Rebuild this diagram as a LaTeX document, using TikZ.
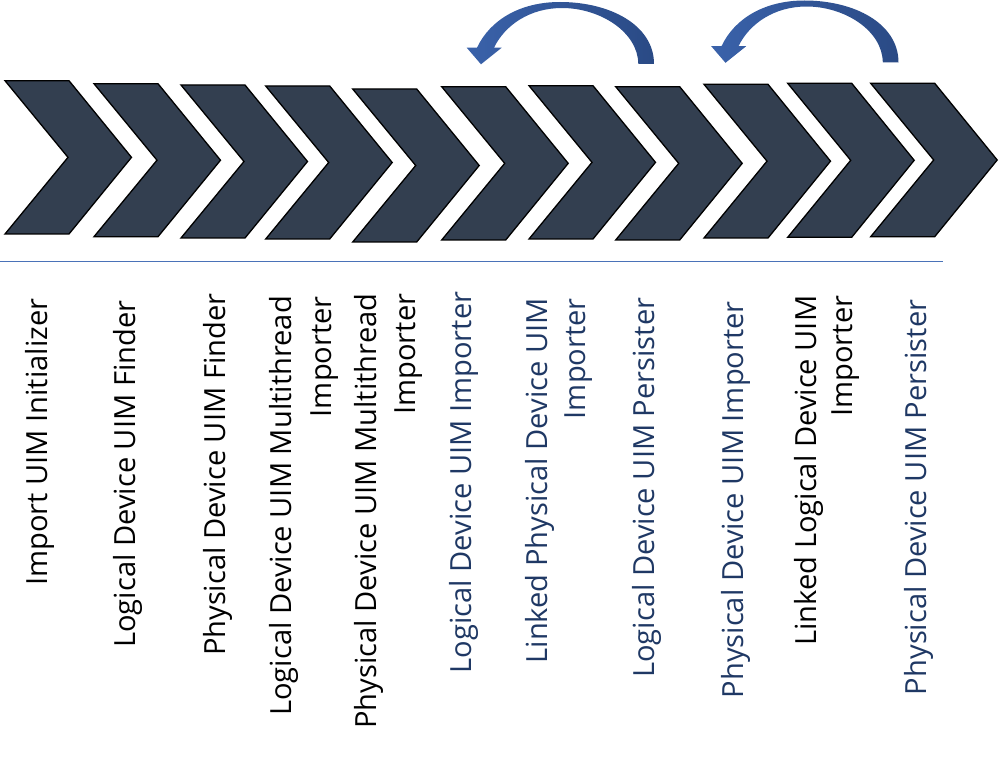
\documentclass[tikz,border=0pt]{standalone}
\usepackage{fontspec}
\setmainfont{Open Sans}
\definecolor{chevfill}{HTML}{333F50}
\definecolor{navy}{HTML}{1F3864}
\definecolor{rulecol}{HTML}{4A72B8}
\definecolor{arrL}{HTML}{3A62AA}
\definecolor{arrR}{HTML}{2A4A85}
\begin{document}
\begin{tikzpicture}[x=1pt,y=-1pt,
  chev/.style={draw=black, line width=1.3pt, fill=chevfill, line join=miter},
  lbl/.style={rotate=90, anchor=base east, inner sep=0pt,
    font=\fontsize{29.1}{36}\selectfont, align=right},
  rulestyle/.style={draw=rulecol, line width=1.1pt},
  backarrow/.pic={
    \path[left color=arrL, right color=arrR]
      (477,47.7) .. controls (490,20) and (520,2) .. (560,2)
      .. controls (610,2) and (654,25) .. (654,64)
      -- (638.3,64)
      .. controls (638,32) and (600,8) .. (562,8)
      .. controls (530,8) and (505,25) .. (494,47.7)
      -- (501.7,47.7) -- (481,64.3) -- (466.7,47.7) -- cycle;
  }
]
\useasboundingbox (0,0) rectangle (999,770);

% chevrons
\foreach \x/\t/\b in {5/80.7/234, 94/83.7/236.7, 181/85/238, 265.7/86/239,
  352.7/89/242, 441.7/86.7/240, 529/85.7/239, 615.7/86.7/240,
  704/84.3/238, 787.7/83.3/237.3, 870.7/83.3/236.7}{
  \pgfmathsetmacro\m{(\t+\b)/2}
  \draw[chev] (\x,\t) -- (\x+64,\t) -- (\x+126.5,\m) -- (\x+64,\b)
    -- (\x,\b) -- (\x+63,\m) -- cycle;
}

% curved arrows
\pic at (0,0) {backarrow};
\pic at (244.5,-1.5) {backarrow};

% separator line
\coordinate (ruleA) at (0,261.3);
\coordinate (ruleB) at (943,261.3);
\draw[rulestyle] (ruleA) -- (ruleB);

% labels (multi-line nodes: base = last line)
\node[lbl] (t1) at (47.7,298.5) {Import UIM Initializer};
\node[lbl] (t2) at (135,300.5) {Logical Device UIM Finder};
\node[lbl] (t3) at (225,293.5) {Physical Device UIM Finder};
\node[lbl] (t4) at (331.5,296) {Logical Device UIM Multithread\\[4.5pt]Importer};
\node[lbl] (t5) at (415,293.5) {Physical Device UIM Multithread\\[3pt]Importer};
\node[lbl, text=navy] (t6) at (471.7,291.5) {Logical Device UIM Importer};
\node[lbl, text=navy] (t7) at (585,298) {Linked Physical Device UIM\\[1.5pt]Importer};
\node[lbl, text=navy] (t8) at (654.3,297.5) {Logical Device UIM Persister};
\node[lbl, text=navy] (t9) at (743.3,301) {Physical Device UIM Importer};
\node[lbl] (t10) at (852.7,295.5) {Linked Logical Device UIM\\Importer};
\node[lbl, text=navy] (t11) at (926.7,299.5) {Physical Device UIM Persister};
\end{tikzpicture}
\end{document}
